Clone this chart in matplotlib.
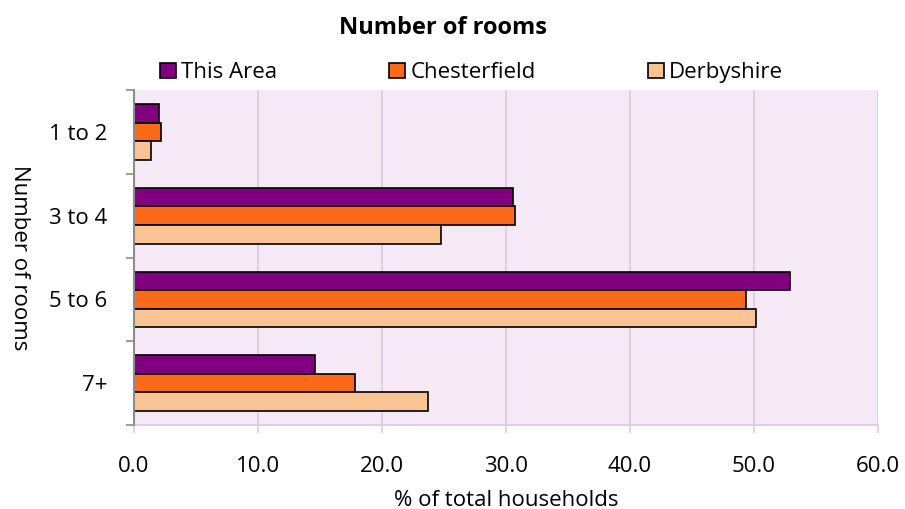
import matplotlib
matplotlib.use("Agg")
import matplotlib.pyplot as plt
import numpy as np
from matplotlib.patches import Patch

plt.rcParams["font.family"] = ["Open Sans", "DejaVu Sans"]

categories = ["1 to 2", "3 to 4", "5 to 6", "7+"]
this_area = [2.0, 30.6, 52.9, 14.6]
chesterfield = [2.2, 30.7, 49.4, 17.8]
derbyshire = [1.4, 24.8, 50.2, 23.7]
series_names = ["This Area", "Chesterfield", "Derbyshire"]
colors = ["#800080", "#FB6A19", "#FAC393"]
xticks = [0, 10, 20, 30, 40, 50, 60]

fig = plt.figure(figsize=(9.05, 5.09), dpi=100)
ax = fig.add_axes([0.148, 0.165, 0.822, 0.658])
ax.set_facecolor("#F6E9F6")

h = 0.222
y = np.arange(len(categories))
for i, (vals, col) in enumerate(zip([this_area, chesterfield, derbyshire], colors)):
    ax.barh(y + (i - 1) * h, vals, height=h, color=col, edgecolor="black",
            linewidth=1.2, zorder=3)

ax.set_ylim(len(categories) - 0.5, -0.5)
ax.set_xlim(0, 60)
ax.set_xticks(xticks)
ax.set_xticklabels([f"{v:.1f}" for v in xticks], fontsize=16)
ax.set_yticks(y)
ax.set_yticklabels(categories, fontsize=16)
ax.set_yticks(np.arange(len(categories) + 1) - 0.5, minor=True)
ax.tick_params(axis="y", which="major", length=0, pad=19)
ax.tick_params(axis="y", which="minor", length=6, color="#8C8C8C", width=1.2)
ax.tick_params(axis="x", length=6, color="#E2C6E2", width=1.2, pad=16)
ax.grid(axis="x", color="#E2C6E2", linewidth=1.2, zorder=0)

for s in ["top", "right"]:
    ax.spines[s].set_visible(False)
ax.spines["bottom"].set_color("#E2C6E2")
ax.spines["bottom"].set_linewidth(1.2)
ax.spines["left"].set_color("#8C8C8C")
ax.spines["left"].set_linewidth(1.5)
ax.spines["left"].set_zorder(4)

ax.set_xlabel("% of total households", fontsize=16)
ax.xaxis.label.set_va("center")
ax.xaxis.set_label_coords(0.5, -0.224)
ax.set_ylabel("Number of rooms", fontsize=16, rotation=270)
ax.yaxis.set_label_coords(-0.168, 0.5)

fig.text(0.49, 0.945, "Number of rooms", ha="center", va="center",
         fontsize=17, fontweight="bold")

legend_x = [0.177, 0.430, 0.716]
for name, col, lx in zip(series_names, colors, legend_x):
    fig.legend(handles=[Patch(facecolor=col, edgecolor="black", linewidth=1.2)],
               labels=[name], loc="center left", bbox_to_anchor=(lx, 0.857),
               frameon=False, fontsize=16, handlelength=0.7, handleheight=0.7,
               handletextpad=0.25, borderpad=0, borderaxespad=0)

fig.savefig("out.png", dpi=100)
